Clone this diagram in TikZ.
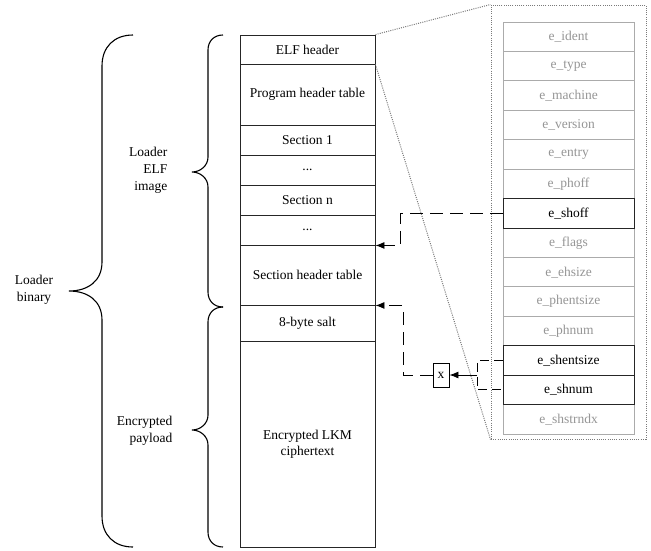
\documentclass[tikz,border=0pt]{standalone}
\usepackage{fontspec}
\setmainfont{Liberation Serif}
\usetikzlibrary{arrows.meta,calc}
\definecolor{lightfg}{HTML}{969696}
\definecolor{lightbd}{HTML}{ABABAB}
\definecolor{dotc}{HTML}{7A7A7A}
\definecolor{darkbd}{HTML}{262626}
\begin{document}
\begin{tikzpicture}[x=1pt,y=-1pt,
  every node/.style={font=\fontsize{13.5}{16}\selectfont},
  midcell/.style={draw=darkbd, line width=0.9pt, fill=white, minimum width=135pt, inner sep=0pt, align=center, text=black},
  rcell/.style={draw=lightbd, line width=0.9pt, fill=white, minimum width=131pt, minimum height=29.43pt, inner sep=0pt, text=lightfg},
  hcell/.style={draw=darkbd, line width=0.9pt, fill=white, minimum width=131pt, minimum height=29.43pt, inner sep=0pt, text=black},
  brace/.style={draw=black, line width=1.1pt},
  conn/.style={draw=black, line width=0.9pt, dash pattern=on 13pt off 7pt, -{Latex[length=9pt,width=7pt]}},
  brk/.style={draw=black, line width=0.9pt, dash pattern=on 9pt off 5pt},
  zoomline/.style={draw=dotc, line width=1pt, dash pattern=on 1pt off 1.2pt},
  lbl/.style={align=right, font=\fontsize{13.5}{17}\selectfont}
]
\useasboundingbox (0,0) rectangle (651,550);

% middle column
\node[midcell, minimum height=29pt]  (m1) at (307.5,49.5) {ELF header};
\node[midcell, minimum height=61pt]  (m2) at (307.5,94.5) {Program header table};
\node[midcell, minimum height=30pt]  (m3) at (307.5,140) {Section 1};
\node[midcell, minimum height=30pt]  (m4) at (307.5,170) {...};
\node[midcell, minimum height=30pt]  (m5) at (307.5,200) {Section n};
\node[midcell, minimum height=30pt]  (m6) at (307.5,230) {...};
\node[midcell, minimum height=60pt]  (m7) at (307.5,275) {Section header table};
\node[midcell, minimum height=36pt]  (m8) at (307.5,323) {8-byte salt};
\node[midcell, minimum height=206pt] (m9) at (307.5,444) {Encrypted LKM\\ciphertext};

% zoom box
\node[draw=dotc, line width=1pt, dash pattern=on 1pt off 1.2pt, minimum width=155pt, minimum height=434pt, inner sep=0pt] (zb) at (568.5,222) {};
\draw[zoomline] (m1.north east) -- (zb.north west);
\draw[zoomline] (m1.south east) -- (zb.south west);

% right column
\node[rcell] (r1)  at (568.5,36.7)  {e\_ident};
\node[rcell] (r2)  at (568.5,66.1)  {e\_type};
\node[rcell] (r3)  at (568.5,95.6)  {e\_machine};
\node[rcell] (r4)  at (568.5,125.0) {e\_version};
\node[rcell] (r5)  at (568.5,154.4) {e\_entry};
\node[rcell] (r6)  at (568.5,183.9) {e\_phoff};
\node[rcell] (r8)  at (568.5,242.7) {e\_flags};
\node[rcell] (r9)  at (568.5,272.2) {e\_ehsize};
\node[rcell] (r10) at (568.5,301.6) {e\_phentsize};
\node[rcell] (r11) at (568.5,331.0) {e\_phnum};
\node[rcell] (r14) at (568.5,419.3) {e\_shstrndx};
\node[hcell] (r7)  at (568.5,213.3) {e\_shoff};
\node[hcell] (r12) at (568.5,360.5) {e\_shentsize};
\node[hcell] (r13) at (568.5,389.9) {e\_shnum};

% x box
\node[draw=black, line width=0.9pt, fill=white, minimum width=16pt, minimum height=24pt, inner sep=0pt] (xb) at (441,375) {x};

% connectors
\coordinate (b1) at (400,0);
\coordinate (b2) at (403,0);
\coordinate (br) at (477,375);
\draw[conn] (r7.west) -| (m6.south east -| b1) -- (m6.south east);
\draw[conn] (xb.west) -| (m7.south east -| b2) -- (m7.south east);
\draw[brk] (r12.west) -| (br) |- (r13.west);
\draw[draw=black, line width=0.9pt, -{Latex[length=9pt,width=7pt]}] (br) -- (xb.east);

% braces
\draw[brace] (133,35) .. controls (114,35) and (102,47) .. (102,66) -- (102,262)
  .. controls (102,281) and (88,291) .. (69,291)
  .. controls (88,291) and (102,301) .. (102,320) -- (102,516)
  .. controls (102,535) and (114,547) .. (133,547);
\draw[brace] (223,35) .. controls (214,35) and (208,41) .. (208,50) -- (208,157)
  .. controls (208,166) and (200,172) .. (192,172)
  .. controls (200,172) and (208,178) .. (208,187) -- (208,292)
  .. controls (208,301) and (214,307) .. (223,307);
\draw[brace] (223,307) .. controls (214,307) and (208,313) .. (208,322) -- (208,415)
  .. controls (208,424) and (200,430) .. (192,430)
  .. controls (200,430) and (208,436) .. (208,445) -- (208,532)
  .. controls (208,541) and (214,547) .. (223,547);

% labels
\node[lbl, anchor=east] (l1) at (171,170) {Loader\\ELF\\image};
\node[lbl, anchor=east] (l2) at (176,431) {Encrypted\\payload};
\node[lbl, align=center] (l3) at (34,290) {Loader\\binary};
\end{tikzpicture}
\end{document}
